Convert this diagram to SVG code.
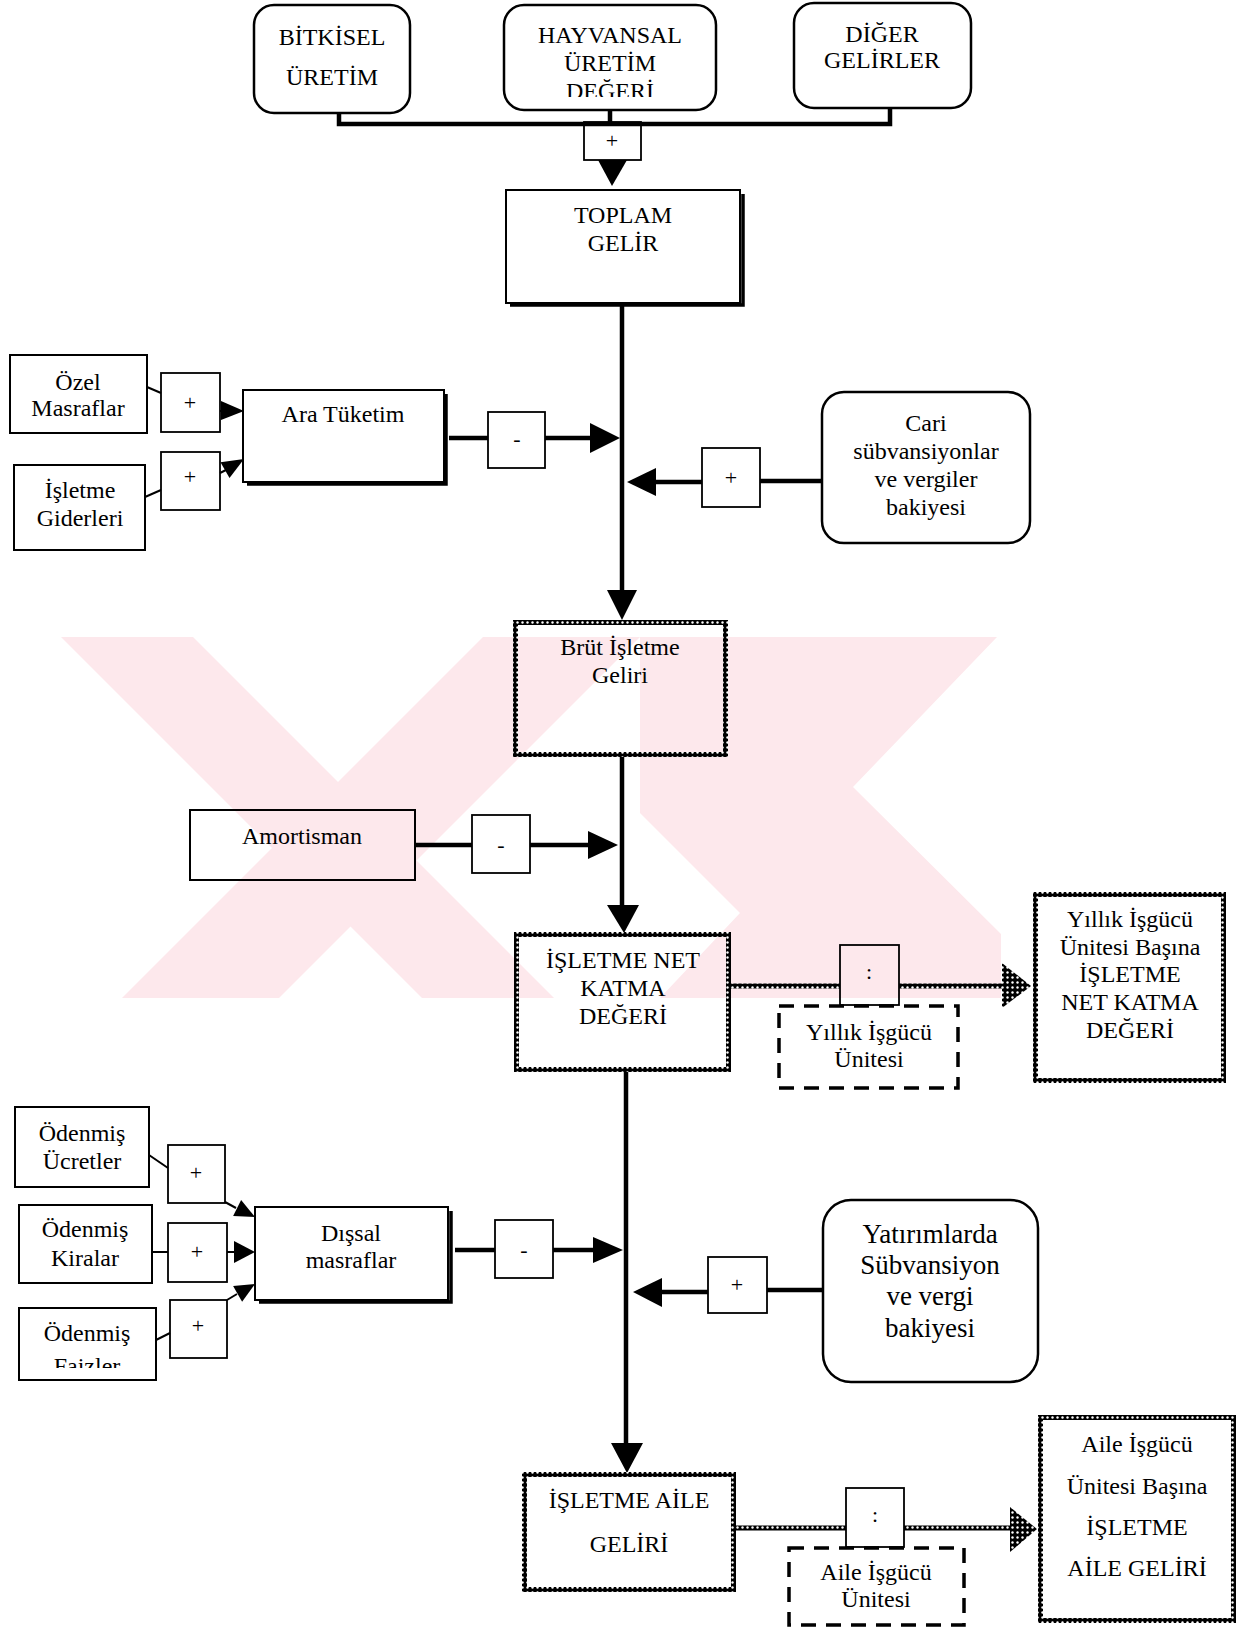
<svg xmlns="http://www.w3.org/2000/svg" width="1254" height="1629" viewBox="0 0 1254 1629">
  <defs>
    <pattern id="chain" width="5" height="5" patternUnits="userSpaceOnUse">
      <rect width="5" height="5" fill="#000"/>
      <circle cx="2.5" cy="2.5" r="1.2" fill="#fff"/>
    </pattern>
    <clipPath id="clipHay"><rect x="500" y="0" width="220" height="97"/></clipPath>
    <clipPath id="clipFaiz"><rect x="15" y="1300" width="145" height="68"/></clipPath>
    <clipPath id="clipMark"><rect x="61" y="637" width="940" height="361"/></clipPath>
  </defs>
  <style>
    .t { font-family: "Liberation Serif", "Times New Roman", serif; font-size: 24px; fill: #000; text-anchor: middle; }
    .big { font-size: 27px; }
    .op { font-family: "Liberation Serif", "Times New Roman", serif; font-size: 22px; fill: #000; text-anchor: middle; }
    .box { fill: none; stroke: #000; stroke-width: 2; }
    .rbox { fill: none; stroke: #000; stroke-width: 2.5; }
    .obox { fill: none; stroke: #000; stroke-width: 1.8; }
    .shadow { fill: none; stroke: #000; stroke-width: 3.5; }
    .cbox { fill: none; stroke: url(#chain); stroke-width: 5; }
    .dbox { fill: none; stroke: #000; stroke-width: 3.5; stroke-dasharray: 15 10; }
    .thick { fill: none; stroke: #000; stroke-width: 4.5; }
    .thin { fill: none; stroke: #000; stroke-width: 2; }
    .head { fill: #000; stroke: none; }
    .mark { fill: #fde8ec; stroke: none; }
  </style>

  <!-- background -->
  <rect width="1254" height="1629" fill="#fff"/>

  <!-- pale background emblem -->
  <g id="emblem" clip-path="url(#clipMark)">
    <polygon class="mark" points="61,637 193,637 554,998 422,998"/>
    <polygon class="mark" points="483,637 640,637 279,998 122,998"/>
    <polygon class="mark" points="640,637 997,637 853,787 1020,953 1020,998 660,998 740,913 640,813"/>
  </g>

  <!-- connectors -->
  <g id="connectors">
    <!-- income sources into total -->
    <path class="thick" d="M339,112 V124 H890 V107 M610,109 V124"/>
    <polygon class="head" points="598,160 627,160 612,186"/>

    <!-- main flow -->
    <line class="thick" x1="622" y1="303" x2="622" y2="592"/>
    <polygon class="head" points="607,590 637,590 622,620"/>
    <line class="thick" x1="622" y1="757" x2="622" y2="907"/>
    <polygon class="head" points="607,905 639,905 624,933"/>
    <line class="thick" x1="626" y1="1072" x2="626" y2="1445"/>
    <polygon class="head" points="611,1443 643,1443 627,1473"/>

    <!-- intermediate consumption -->
    <line class="thin" x1="147" y1="387" x2="161" y2="393"/>
    <line class="thin" x1="220" y1="411" x2="226" y2="411"/>
    <polygon class="head" points="221,401 244,411 221,420"/>
    <line class="thin" x1="145" y1="497" x2="161" y2="490"/>
    <line class="thin" x1="220" y1="473" x2="228" y2="469"/>
    <polygon class="head" points="244,459 229.5,477.9 220.5,462.3"/>
    <line class="thick" x1="449" y1="438" x2="488" y2="438"/>
    <line class="thick" x1="545" y1="438" x2="592" y2="438"/>
    <polygon class="head" points="590,423 590,453 620,438"/>

    <!-- current subsidies -->
    <line class="thick" x1="822" y1="481" x2="760" y2="481"/>
    <line class="thick" x1="702" y1="482" x2="654" y2="482"/>
    <polygon class="head" points="656,468 656,496 627,482"/>

    <!-- depreciation -->
    <line class="thick" x1="415" y1="845" x2="472" y2="845"/>
    <line class="thick" x1="530" y1="845" x2="590" y2="845"/>
    <polygon class="head" points="588,831 588,859 618,845"/>

    <!-- per annual labour unit -->
    <rect x="731" y="983.5" width="109" height="5" fill="url(#chain)"/>
    <rect x="899" y="983.5" width="105" height="5" fill="url(#chain)"/>
    <polygon points="1002,963 1031,986 1002,1008" fill="url(#chain)"/>

    <!-- external costs -->
    <line class="thin" x1="149" y1="1155" x2="168" y2="1168"/>
    <line class="thin" x1="225" y1="1202" x2="236" y2="1208"/>
    <polygon class="head" points="255,1217 233.1,1216.1 241.1,1200.1"/>
    <line class="thin" x1="152" y1="1252" x2="168" y2="1252"/>
    <line class="thin" x1="227" y1="1252" x2="236" y2="1252"/>
    <polygon class="head" points="234,1241 255,1252 234,1263"/>
    <line class="thin" x1="156" y1="1340" x2="170" y2="1333"/>
    <line class="thin" x1="227" y1="1300" x2="237" y2="1294"/>
    <polygon class="head" points="255,1284 242.1,1301.7 233.1,1286.1"/>
    <line class="thick" x1="455" y1="1250" x2="495" y2="1250"/>
    <line class="thick" x1="553" y1="1250" x2="595" y2="1250"/>
    <polygon class="head" points="593,1237 593,1263 623,1250"/>

    <!-- investment subsidies -->
    <line class="thick" x1="823" y1="1290" x2="767" y2="1290"/>
    <line class="thick" x1="708" y1="1292" x2="660" y2="1292"/>
    <polygon class="head" points="662,1278 662,1307 633,1292"/>

    <!-- per family labour unit -->
    <rect x="736" y="1525.5" width="110" height="5" fill="url(#chain)"/>
    <rect x="904" y="1525.5" width="108" height="5" fill="url(#chain)"/>
    <polygon points="1010,1507 1037,1529 1010,1552" fill="url(#chain)"/>
  </g>

  <!-- top sources -->
  <g id="bitkisel">
    <rect class="rbox" x="254" y="5" width="156" height="108" rx="20"/>
    <text class="t" x="332" y="45">BİTKİSEL</text>
    <text class="t" x="332" y="85">ÜRETİM</text>
  </g>
  <g id="hayvansal">
    <rect class="rbox" x="504" y="5" width="212" height="105" rx="20"/>
    <text class="t" x="610" y="43">HAYVANSAL</text>
    <text class="t" x="610" y="71">ÜRETİM</text>
    <text class="t" x="610" y="99" clip-path="url(#clipHay)">DEĞERİ</text>
  </g>
  <g id="diger">
    <rect class="rbox" x="794" y="3" width="177" height="105" rx="20"/>
    <text class="t" x="882" y="42">DİĞER</text>
    <text class="t" x="882" y="68">GELİRLER</text>
  </g>
  <g id="op-sum">
    <rect class="obox" x="584" y="122" width="57" height="38"/>
    <text class="op" x="612" y="148">+</text>
  </g>

  <g id="toplam">
    <polyline class="shadow" points="743,194 743,305 510,305"/>
    <rect class="box" x="506" y="190" width="234" height="113"/>
    <text class="t" x="623" y="223">TOPLAM</text>
    <text class="t" x="623" y="251">GELİR</text>
  </g>

  <!-- intermediate consumption -->
  <g id="ozel">
    <rect class="box" x="10" y="355" width="137" height="78"/>
    <text class="t" x="78" y="390">Özel</text>
    <text class="t" x="78" y="416">Masraflar</text>
  </g>
  <g id="op-ozel">
    <rect class="obox" x="161" y="373" width="59" height="59"/>
    <text class="op" x="190" y="410">+</text>
  </g>
  <g id="isletme-giderleri">
    <rect class="box" x="14" y="465" width="131" height="85"/>
    <text class="t" x="80" y="498">İşletme</text>
    <text class="t" x="80" y="526">Giderleri</text>
  </g>
  <g id="op-giderler">
    <rect class="obox" x="161" y="452" width="59" height="58"/>
    <text class="op" x="190" y="484">+</text>
  </g>
  <g id="ara-tuketim">
    <polyline class="shadow" points="446,394 446,484 247,484"/>
    <rect class="box" x="243" y="390" width="201" height="92"/>
    <text class="t" x="343" y="422">Ara Tüketim</text>
  </g>
  <g id="op-ara">
    <rect class="obox" x="488" y="412" width="57" height="56"/>
    <text class="op" x="517" y="446">-</text>
  </g>

  <g id="cari">
    <rect class="rbox" x="822" y="392" width="208" height="151" rx="22"/>
    <text class="t" x="926" y="431">Cari</text>
    <text class="t" x="926" y="459">sübvansiyonlar</text>
    <text class="t" x="926" y="487">ve vergiler</text>
    <text class="t" x="926" y="515">bakiyesi</text>
  </g>
  <g id="op-cari">
    <rect class="obox" x="702" y="448" width="58" height="59"/>
    <text class="op" x="731" y="485">+</text>
  </g>

  <g id="brut">
    <rect class="cbox" x="515.5" y="622.5" width="210" height="132"/>
    <text class="t" x="620" y="655">Brüt İşletme</text>
    <text class="t" x="620" y="683">Geliri</text>
  </g>

  <g id="amortisman">
    <rect class="box" x="190" y="810" width="225" height="70"/>
    <text class="t" x="302" y="844">Amortisman</text>
  </g>
  <g id="op-amortisman">
    <rect class="obox" x="472" y="815" width="58" height="58"/>
    <text class="op" x="501" y="852">-</text>
  </g>

  <g id="net-katma">
    <rect class="cbox" x="516.5" y="934.5" width="212" height="135"/>
    <text class="t" x="623" y="968">İŞLETME NET</text>
    <text class="t" x="623" y="996">KATMA</text>
    <text class="t" x="623" y="1024">DEĞERİ</text>
  </g>
  <g id="op-yillik">
    <rect class="obox" x="840" y="945" width="59" height="60"/>
    <text class="op" x="869" y="979">:</text>
  </g>
  <g id="yillik-isgucu">
    <rect class="dbox" x="779" y="1006" width="179" height="82"/>
    <text class="t" x="869" y="1040">Yıllık İşgücü</text>
    <text class="t" x="869" y="1067">Ünitesi</text>
  </g>
  <g id="net-katma-birim">
    <rect class="cbox" x="1035.5" y="894.5" width="188" height="186"/>
    <text class="t" x="1130" y="927">Yıllık İşgücü</text>
    <text class="t" x="1130" y="955">Ünitesi Başına</text>
    <text class="t" x="1130" y="982">İŞLETME</text>
    <text class="t" x="1130" y="1010">NET KATMA</text>
    <text class="t" x="1130" y="1038">DEĞERİ</text>
  </g>

  <!-- external costs -->
  <g id="ucretler">
    <rect class="box" x="15" y="1107" width="134" height="80"/>
    <text class="t" x="82" y="1141">Ödenmiş</text>
    <text class="t" x="82" y="1169">Ücretler</text>
  </g>
  <g id="op-ucretler">
    <rect class="obox" x="168" y="1145" width="57" height="58"/>
    <text class="op" x="196" y="1180">+</text>
  </g>
  <g id="kiralar">
    <rect class="box" x="19" y="1205" width="133" height="78"/>
    <text class="t" x="85" y="1237">Ödenmiş</text>
    <text class="t" x="85" y="1266">Kiralar</text>
  </g>
  <g id="op-kiralar">
    <rect class="obox" x="168" y="1223" width="59" height="59"/>
    <text class="op" x="197" y="1259">+</text>
  </g>
  <g id="faizler">
    <rect class="box" x="19" y="1308" width="137" height="72"/>
    <text class="t" x="87" y="1341">Ödenmiş</text>
    <text class="t" x="87" y="1374" clip-path="url(#clipFaiz)">Faizler</text>
  </g>
  <g id="op-faizler">
    <rect class="obox" x="170" y="1300" width="57" height="58"/>
    <text class="op" x="198" y="1333">+</text>
  </g>
  <g id="dissal">
    <polyline class="shadow" points="451,1211 451,1302 259,1302"/>
    <rect class="box" x="255" y="1207" width="193" height="93"/>
    <text class="t" x="351" y="1241">Dışsal</text>
    <text class="t" x="351" y="1268">masraflar</text>
  </g>
  <g id="op-dissal">
    <rect class="obox" x="495" y="1220" width="58" height="58"/>
    <text class="op" x="524" y="1257">-</text>
  </g>

  <g id="yatirim">
    <rect class="rbox" x="823" y="1200" width="215" height="182" rx="28"/>
    <text class="t big" x="930" y="1243">Yatırımlarda</text>
    <text class="t big" x="930" y="1274">Sübvansiyon</text>
    <text class="t big" x="930" y="1305">ve vergi</text>
    <text class="t big" x="930" y="1337">bakiyesi</text>
  </g>
  <g id="op-yatirim">
    <rect class="obox" x="708" y="1257" width="59" height="56"/>
    <text class="op" x="737" y="1292">+</text>
  </g>

  <g id="aile-geliri">
    <rect class="cbox" x="524.5" y="1474.5" width="209" height="115"/>
    <text class="t" x="629" y="1508">İŞLETME AİLE</text>
    <text class="t" x="629" y="1552">GELİRİ</text>
  </g>
  <g id="op-aile">
    <rect class="obox" x="846" y="1488" width="58" height="59"/>
    <text class="op" x="875" y="1522">:</text>
  </g>
  <g id="aile-isgucu">
    <rect class="dbox" x="789" y="1548" width="175" height="77"/>
    <text class="t" x="876" y="1580">Aile İşgücü</text>
    <text class="t" x="876" y="1607">Ünitesi</text>
  </g>
  <g id="aile-geliri-birim">
    <rect class="cbox" x="1040.5" y="1417.5" width="193" height="203"/>
    <text class="t" x="1137" y="1452">Aile İşgücü</text>
    <text class="t" x="1137" y="1494">Ünitesi Başına</text>
    <text class="t" x="1137" y="1535">İŞLETME</text>
    <text class="t" x="1137" y="1576">AİLE GELİRİ</text>
  </g>
</svg>
